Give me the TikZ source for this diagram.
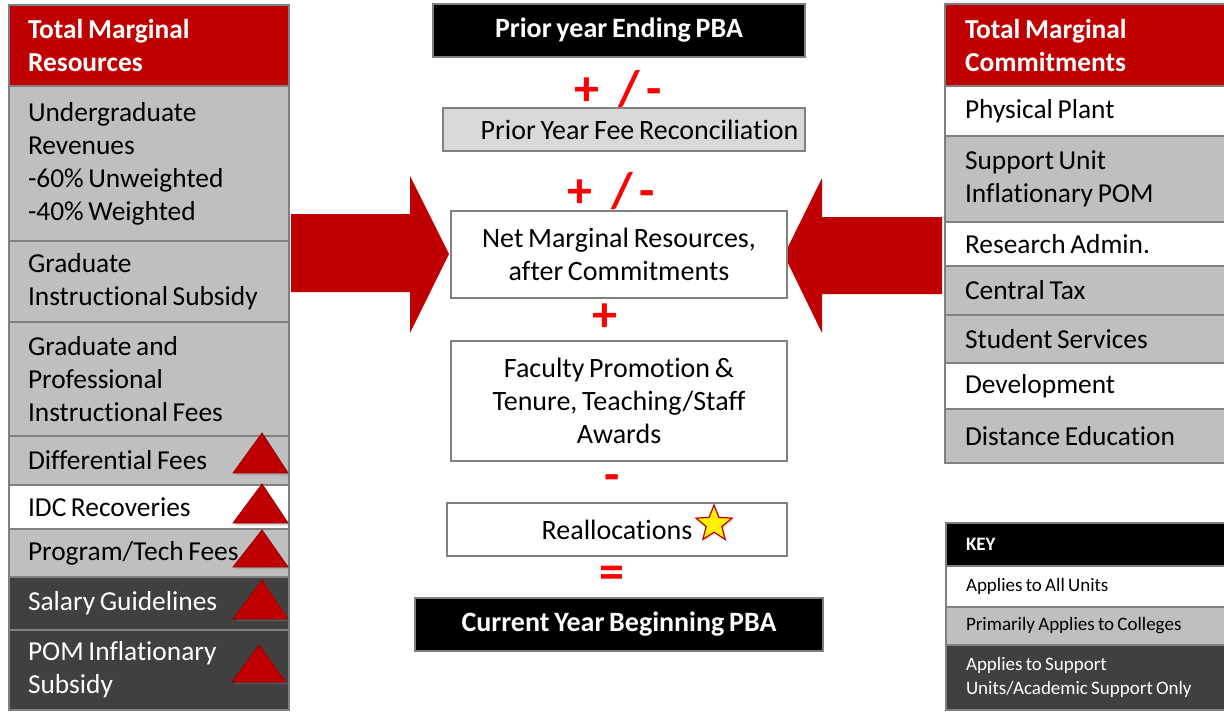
\documentclass[tikz,border=0pt]{standalone}
\usepackage{fontspec}
\setmainfont{Carlito}[Ligatures={TeX,NoCommon}, WordSpace=0.75]
\usetikzlibrary{positioning,shapes.geometric,shadows}

\definecolor{hdrred}{HTML}{C00000}
\definecolor{rowgray}{HTML}{BFBFBF}
\definecolor{darkfill}{HTML}{404040}
\definecolor{feegray}{HTML}{D9D9D9}
\definecolor{edgegray}{HTML}{808080}
\definecolor{signred}{HTML}{FF0000}

\begin{document}
\begin{tikzpicture}[x=0.5pt,y=-0.5pt,
    cell/.style={draw=edgegray, line width=1pt, outer sep=0pt, minimum width=140pt, text width=121pt,
      inner xsep=9.5pt, inner ysep=1pt, align=flush left, font=\fontsize{13.7}{16.5}\selectfont},
    rowhead/.style={cell, fill=hdrred, text=white, font=\fontsize{13.7}{16.5}\selectfont\bfseries},
    rowlight/.style={cell, fill=rowgray},
    rowwhite/.style={cell, fill=white},
    rowdark/.style={cell, fill=darkfill, text=white},
    keytext/.style={font=\fontsize{9.5}{12}\selectfont, minimum width=141pt},
    flowbox/.style={draw=edgegray, line width=1pt, fill=white, align=center, font=\fontsize{14}{16.5}\selectfont},
    pbabox/.style={flowbox, fill=black, text=white, font=\fontsize{14}{16.5}\selectfont\bfseries},
    sign/.style={text=signred, font=\fontsize{25}{25}\selectfont\bfseries, inner sep=0pt},
    bigarrow/.style={fill=hdrred},
    uptri/.style={fill=hdrred, draw=hdrred!80!black, line width=0.4pt,
      drop shadow={shadow xshift=1.2pt, shadow yshift=-1.2pt, opacity=0.35}}
  ]
\useasboundingbox (0,0) rectangle (1224,713);

% big arrows into the centre
\fill[bigarrow] (291,214) -- (410,214) -- (410,176) -- (449,254) -- (410,333) -- (410,292) -- (291,292) -- cycle;
\fill[bigarrow] (942,217) -- (822,217) -- (822,178) -- (784,255) -- (822,333) -- (822,294) -- (942,294) -- cycle;

% resources column
\node[rowhead, anchor=north west, minimum height=40.5pt] (lhead) at (9,5) {Total Marginal\\Resources};
\node[rowlight, below=0pt of lhead, minimum height=77.5pt] (ugrad) {Undergraduate\\Revenues\\-60\% Unweighted\\-40\% Weighted};
\node[rowlight, below=0pt of ugrad, minimum height=40.5pt] (gradsub) {Graduate\\Instructional Subsidy};
\node[rowlight, below=0pt of gradsub, minimum height=57pt] (gradfee) {Graduate and\\Professional\\Instructional Fees};
\node[rowlight, below=0pt of gradfee, minimum height=24.5pt] (difffee) {Differential Fees};
\node[rowwhite, below=0pt of difffee, minimum height=22pt] (idc) {IDC Recoveries};
\node[rowlight, below=0pt of idc, minimum height=24pt] (progfee) {Program/Tech Fees};
\node[rowdark, below=0pt of progfee, minimum height=26.5pt] (salary) {Salary Guidelines};
\node[rowdark, below=0pt of salary, minimum height=40pt] (pomsub) {POM Inflationary\\Subsidy};

% growth markers
\foreach \ta/\tb in {433/473, 484/523, 530/567, 580/619}
  \filldraw[uptri] (233,\tb) -- (262,\ta) -- (288,\tb) -- cycle;
\filldraw[uptri] (232,682) -- (259,645) -- (286,682) -- cycle;

% commitments column
\node[rowhead, anchor=north west, minimum width=141pt, minimum height=41pt] (rhead) at (945,4) {Total Marginal\\Commitments};
\node[rowwhite, below=0pt of rhead, minimum width=141pt, minimum height=25pt] (plant) {Physical Plant};
\node[rowlight, below=0pt of plant, minimum width=141pt, minimum height=43pt] (suppom) {Support Unit\\Inflationary POM};
\node[rowwhite, below=0pt of suppom, minimum width=141pt, minimum height=22pt] (resadm) {Research Admin.};
\node[rowlight, below=0pt of resadm, minimum width=141pt, minimum height=24.5pt] (ctax) {Central Tax};
\node[rowlight, below=0pt of ctax, minimum width=141pt, minimum height=24pt] (stusvc) {Student Services};
\node[rowwhite, below=0pt of stusvc, minimum width=141pt, minimum height=23pt] (devel) {Development};
\node[rowlight, below=0pt of devel, minimum width=141pt, minimum height=27pt] (disted) {Distance Education};

% key
\node[rowdark, fill=black, keytext, font=\fontsize{9.5}{12}\selectfont\bfseries, anchor=north west, minimum height=21.5pt] (keyhead) at (946,523) {KEY};
\node[rowwhite, keytext, below=0pt of keyhead, minimum height=20.5pt] (keyall) {Applies to All Units};
\node[rowlight, keytext, below=0pt of keyall, minimum height=19pt] (keycol) {Primarily Applies to Colleges};
\node[rowdark, keytext, below=0pt of keycol, minimum height=32.5pt] (keysup) {Applies to Support\\Units/Academic Support Only};

% PBA roll-forward
\node[pbabox, minimum width=186pt, minimum height=26.5pt] (prior) at (619,30.5) {Prior year Ending PBA};
\node[sign] (pm1) at (618,89) {+\hspace{0.38em}/\hspace{0.14em}-};
\node[flowbox, fill=feegray, minimum width=181pt, minimum height=21.5pt] (fee) at (624,129.5) {\hspace*{15.5pt}Prior Year Fee Reconciliation};
\node[sign] (pm2) at (611,191) {+\hspace{0.38em}/\hspace{0.14em}-};
\node[flowbox, minimum width=168pt, minimum height=43.5pt] (net) at (619,254.5) {Net Marginal Resources,\\after Commitments};
\node[sign] (plus) at (605,318) {+};
\node[flowbox, minimum width=168pt, minimum height=60pt] (fac) at (619,401) {Faculty Promotion \&\\Tenure, Teaching/Staff\\Awards};
\node[sign] (minus) at (612,483) {-};
\node[flowbox, minimum width=170pt, minimum height=26.5pt] (realloc) at (617,529.5) {Reallocations};
\node[star, star points=5, star point ratio=2.3, fill=yellow, draw=hdrred, line width=0.6pt,
  minimum size=19pt, inner sep=0pt, drop shadow={shadow xshift=0.8pt, shadow yshift=-0.8pt, opacity=0.3}] (realstar) at (714,524) {};
\node[sign] (equals) at (612,577) {=};
\node[pbabox, minimum width=204pt, minimum height=26.5pt] (current) at (619,624.5) {Current Year Beginning PBA};
\end{tikzpicture}
\end{document}
